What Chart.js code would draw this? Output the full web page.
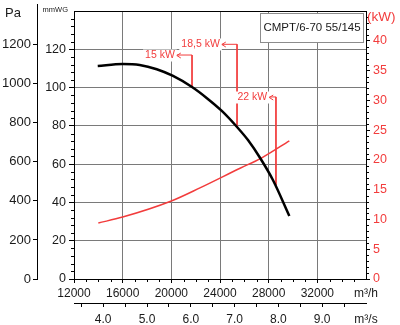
<!DOCTYPE html>
<html>
<head>
<meta charset="utf-8">
<script src="https://cdn.jsdelivr.net/npm/chart.js@4.4.1/dist/chart.umd.min.js"></script>
<style>
  html, body { margin: 0; padding: 0; background: #fff; }
</style>
</head>
<body>
<canvas id="fan-chart" width="400" height="325"></canvas>
<script>
// Fan curve CMPT/6-70 55/145
const modelName = 'CMPT/6-70 55/145';

// Pressure curve: flow (m3/h) -> static pressure (mmWG)
const pressureFlow = [13950, 16000, 17400, 18800, 20100, 21700, 22900, 24150, 25400, 26300, 27300, 28350, 29700];
const pressureMm = [111.3, 112.3, 111.8, 109.6, 106.2, 100.3, 94.6, 87.8, 79.4, 72.6, 63.2, 51.7, 32.9];

// Power curve: flow (m3/h) -> absorbed power (kW)
const powerFlow = [14000, 16000, 20000, 22350, 25650, 27400, 29700];
const powerKw = [9.4, 10.4, 13.1, 15.3, 18.6, 20.3, 23.2];

// Motor size markers
const motorLabels = ['15 kW', '18,5 kW', '22 kW'];
const motorFlow = [21700, 25400, 28600];
const motorArrowFlow = [20450, 24150, 28050];
const motorTopMm = [117.0, 122.6, 95.1];
const motorCurveMm = [100.3, 79.4, 49.0];

// Tick labels
const flowTicks = [12000, 16000, 20000, 24000, 28000, 32000];
const flowSecTicks = [4.0, 5.0, 6.0, 7.0, 8.0, 9.0];
const mmTicks = [0, 20, 40, 60, 80, 100, 120];
const paTicks = [0, 200, 400, 600, 800, 1000, 1200];
const kwTicks = [0, 5, 10, 15, 20, 25, 30, 35, 40];

const flowMax = 36000;
const mmMax = 140;
const kwMax = 45;
const PA_PER_MM = 9.80665;

const RED = '#f23c3c';
const GRID = '#7a7a7a';
const TEXT = '#1a1a1a';
const FONT = 'Liberation Sans, Arial, sans-serif';

// half-step marks on the m3/s axis
const secTickMarks = flowSecTicks.flatMap(v => [v - 0.5, v]).concat(9.5);

const clear = 'rgba(0,0,0,0)';
const toTicks = arr => arr.map(v => ({ value: v }));

function crisp(p) { return Math.round(p) + 0.5; }

const decorPlugin = {
    id: 'decor',
    afterDatasetsDraw(chart) {
        const ctx = chart.ctx;
        const x = chart.scales.x, y = chart.scales.y;
        ctx.save();
        ctx.font = '10.5px ' + FONT;
        motorLabels.forEach((label, i) => {
            const tx = x.getPixelForValue(motorArrowFlow[i]);
            const ty = crisp(y.getPixelForValue(motorTopMm[i]));
            const w = ctx.measureText(label).width;
            ctx.fillStyle = '#fff';
            ctx.fillRect(tx - w - 4, ty - 6, w + 4, 12);
            ctx.fillStyle = RED;
            ctx.textAlign = 'right';
            ctx.textBaseline = 'middle';
            ctx.fillText(label, tx - 2, ty);
            // arrow head
            ctx.strokeStyle = RED;
            ctx.lineWidth = 1;
            ctx.beginPath();
            ctx.moveTo(tx + 4, ty - 2.5);
            ctx.lineTo(tx, ty);
            ctx.lineTo(tx + 4, ty + 2.5);
            ctx.stroke();
        });
        ctx.restore();
    },
    afterDraw(chart) {
        const ctx = chart.ctx;
        const area = chart.chartArea;
        const { x, y, yKW, yPa } = chart.scales;
        ctx.save();
        ctx.strokeStyle = '#000';
        ctx.lineWidth = 1;
        ctx.beginPath();
        // minor ticks mmWG
        for (let v = 4; v < mmMax; v += 4) {
            if (v % 20 === 0) continue;
            const py = crisp(y.getPixelForValue(v));
            ctx.moveTo(area.left, py);
            ctx.lineTo(area.left - 3, py);
        }
        // minor ticks kW
        for (let v = 1; v < kwMax; v += 1) {
            if (v % 5 === 0) continue;
            const py = crisp(yKW.getPixelForValue(v));
            ctx.moveTo(area.right, py);
            ctx.lineTo(area.right + 3, py);
        }
        // minor ticks m3/h
        for (let v = 13000; v < flowMax; v += 1000) {
            if (v % 4000 === 0) continue;
            const px = crisp(x.getPixelForValue(v));
            ctx.moveTo(px, area.bottom);
            ctx.lineTo(px, area.bottom + 3);
        }
        // Pa axis line reaches above the plot
        const pax = crisp(yPa.right);
        ctx.moveTo(pax, 4);
        ctx.lineTo(pax, area.top);
        ctx.stroke();

        // axis units
        ctx.fillStyle = TEXT;
        ctx.textBaseline = 'alphabetic';
        ctx.textAlign = 'left';
        ctx.font = '13px ' + FONT;
        ctx.fillText('Pa', 5, 17);
        ctx.textAlign = 'right';
        ctx.font = '7.5px ' + FONT;
        ctx.fillText('mmWG', 68, 12);
        ctx.fillStyle = RED;
        ctx.textAlign = 'left';
        ctx.textBaseline = 'middle';
        ctx.font = '13.5px ' + FONT;
        ctx.fillText('(kW)', 367, 17);

        // model box
        ctx.fillStyle = '#fff';
        ctx.strokeStyle = '#8c8c8c';
        ctx.fillRect(260.5, 13.5, 103, 29);
        ctx.strokeRect(260.5, 13.5, 103, 29);
        ctx.fillStyle = TEXT;
        ctx.textAlign = 'center';
        ctx.font = '11.5px ' + FONT;
        ctx.fillText(modelName, 312, 28);
        ctx.restore();
    }
};

const datasets = [
    {
        label: 'Pressure',
        data: pressureFlow.map((f, i) => ({ x: f, y: pressureMm[i] })),
        yAxisID: 'y',
        borderColor: '#000',
        borderWidth: 2.5,
        cubicInterpolationMode: 'monotone',
        pointRadius: 0
    },
    {
        label: 'Power',
        data: powerFlow.map((f, i) => ({ x: f, y: powerKw[i] })),
        yAxisID: 'yKW',
        borderColor: RED,
        borderWidth: 1.5,
        cubicInterpolationMode: 'monotone',
        pointRadius: 0
    }
];

motorLabels.forEach((label, i) => {
    datasets.push({
        label: label,
        data: [
            { x: motorArrowFlow[i], y: motorTopMm[i] },
            { x: motorFlow[i], y: motorTopMm[i] },
            { x: motorFlow[i], y: motorCurveMm[i] }
        ],
        yAxisID: 'y',
        borderColor: RED,
        borderWidth: 1,
        tension: 0,
        pointRadius: 0
    });
});

new Chart(document.getElementById('fan-chart'), {
    type: 'line',
    data: { datasets },
    plugins: [decorPlugin],
    options: {
        responsive: false,
        animation: false,
        devicePixelRatio: 1,
        layout: { padding: { top: 11, left: 0, right: 0, bottom: 0 } },
        plugins: { legend: { display: false }, tooltip: { enabled: false } },
        scales: {
            x: {
                type: 'linear', position: 'bottom', min: 12000, max: flowMax, weight: 0,
                afterBuildTicks: s => { s.ticks = toTicks(flowTicks.concat(flowMax)); },
                afterFit: s => { s.height = 24; },
                grid: {
                    color: c => (c.tick && (c.tick.value === 12000 || c.tick.value === flowMax)) ? '#000' : GRID,
                    tickColor: c => (c.tick && c.tick.value === flowMax) ? clear : '#000',
                    tickLength: 4
                },
                border: { color: '#000' },
                ticks: {
                    padding: 3, maxRotation: 0, autoSkip: false, color: TEXT,
                    font: { family: FONT, size: 12 },
                    callback: v => v === flowMax ? 'm³/h' : String(v)
                }
            },
            x2: {
                type: 'linear', position: 'bottom', min: 12000 / 3600, max: flowMax / 3600, weight: 1,
                afterBuildTicks: s => { s.ticks = toTicks(secTickMarks.concat(flowMax / 3600)); },
                afterFit: s => { s.height = 22; },
                grid: {
                    drawOnChartArea: false, tickLength: 4,
                    color: c => (c.tick && c.tick.value === flowMax / 3600) ? clear : '#000',
                    tickColor: c => (c.tick && c.tick.value === flowMax / 3600) ? clear : '#000'
                },
                border: { color: '#000' },
                ticks: {
                    padding: 5, maxRotation: 0, autoSkip: false, color: TEXT,
                    font: { family: FONT, size: 12 },
                    callback: v => v === flowMax / 3600 ? 'm³/s' : (flowSecTicks.includes(v) ? v.toFixed(1) : '')
                }
            },
            y: {
                type: 'linear', position: 'left', min: 0, max: mmMax, weight: 0,
                afterBuildTicks: s => { s.ticks = toTicks(mmTicks.concat(mmMax)); },
                afterFit: s => { s.width = 37; },
                grid: {
                    color: c => (c.tick && (c.tick.value === mmMax || c.tick.value === 0)) ? '#000' : GRID,
                    tickColor: c => (c.tick && c.tick.value === mmMax) ? clear : '#000',
                    tickLength: 5
                },
                border: { color: '#000' },
                ticks: {
                    padding: 3, color: TEXT,
                    font: { family: FONT, size: 12.5 },
                    callback: v => v === mmMax ? '' : String(v)
                }
            },
            yPa: {
                type: 'linear', position: 'left', min: 0, max: mmMax * PA_PER_MM, weight: 1,
                afterBuildTicks: s => { s.ticks = toTicks(paTicks); },
                afterFit: s => { s.width = 37; },
                grid: { drawOnChartArea: false, tickLength: 4, color: '#000', tickColor: '#000' },
                border: { color: '#000' },
                ticks: {
                    padding: 2, color: TEXT,
                    font: { family: FONT, size: 13 },
                    callback: v => String(v)
                }
            },
            yKW: {
                type: 'linear', position: 'right', min: 0, max: kwMax,
                afterBuildTicks: s => { s.ticks = toTicks(kwTicks); },
                afterFit: s => { s.width = 34; },
                grid: { drawOnChartArea: false, tickLength: 4, color: '#000', tickColor: '#000' },
                border: { color: '#000' },
                ticks: {
                    padding: 3, color: RED,
                    font: { family: FONT, size: 12.5 },
                    callback: v => String(v)
                }
            }
        }
    }
});
</script>
</body>
</html>
